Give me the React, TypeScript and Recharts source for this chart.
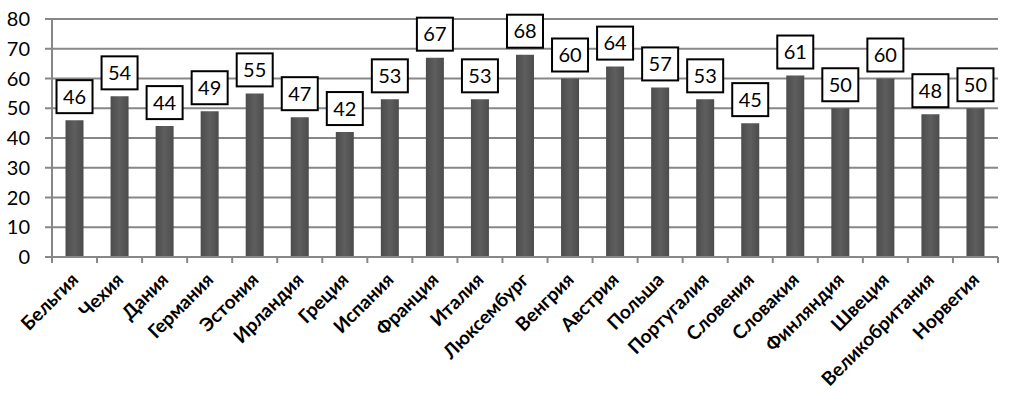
import { Bar, BarChart, CartesianGrid, LabelList, XAxis, YAxis } from 'recharts';

const COUNTRIES = [
  'Бельгия', 'Чехия', 'Дания', 'Германия', 'Эстония', 'Ирландия', 'Греция',
  'Испания', 'Франция', 'Италия', 'Люксембург', 'Венгрия', 'Австрия', 'Польша',
  'Португалия', 'Словения', 'Словакия', 'Финляндия', 'Швеция', 'Великобритания', 'Норвегия',
];
const VALUES = [46, 54, 44, 49, 55, 47, 42, 53, 67, 53, 68, 60, 64, 57, 53, 45, 61, 50, 60, 48, 50];
const Y_TICKS = [0, 10, 20, 30, 40, 50, 60, 70, 80];

const W = 1018;
const H = 410;
const M = { top: 19, right: 20, left: 0, bottom: 0 };
const Y_W = 52;
const X_H = 153;
const STEP = (W - M.left - M.right - Y_W) / COUNTRIES.length;

const FONT = 'Lato, "Open Sans", sans-serif';
const GRID = '#878787';

const data = COUNTRIES.map((name, i) => ({ name, value: VALUES[i] }));

function CountryTick(props: any) {
  const { x, y, payload, index } = props;
  const last = index === COUNTRIES.length - 1;
  const tx = x + 5;
  const ty = y + 24;
  return (
    <g>
      <line x1={x - STEP / 2} x2={x - STEP / 2} y1={y} y2={y + 6} stroke={GRID} strokeWidth={2} />
      {last && <line x1={x + STEP / 2} x2={x + STEP / 2} y1={y} y2={y + 6} stroke={GRID} strokeWidth={2} />}
      <text
        x={tx}
        y={ty}
        transform={`rotate(-45 ${tx} ${ty})`}
        textAnchor="end"
        fontFamily={FONT}
        fontWeight="bold"
        fontSize={19}
        fill="#000"
      >
        {payload.value}
      </text>
    </g>
  );
}

function BoxLabel(props: any) {
  const { x, y, width, value } = props;
  const cx = x + width / 2;
  const bw = 36;
  const bh = 33;
  const bottom = y - 7;
  return (
    <g>
      <rect x={cx - bw / 2} y={bottom - bh} width={bw} height={bh} fill="#fff" stroke="#000" strokeWidth={2} />
      <text x={cx} y={bottom - bh / 2 + 7} textAnchor="middle" fontFamily={FONT} fontSize={20} fill="#000">
        {value}
      </text>
    </g>
  );
}

export default function App() {
  return (
    <div style={{ position: 'absolute', left: 0, top: 0, width: W, height: H, background: '#fff' }}>
      <BarChart width={W} height={H} data={data} margin={M} barCategoryGap="30%">
        <defs>
          <linearGradient id="barFill" x1="0" y1="0" x2="1" y2="0">
            <stop offset="0%" stopColor="#4c4c4c" />
            <stop offset="50%" stopColor="#5e5e5e" />
            <stop offset="100%" stopColor="#4c4c4c" />
          </linearGradient>
        </defs>
        <CartesianGrid vertical={false} stroke={GRID} strokeWidth={2} />
        <XAxis
          dataKey="name"
          interval={0}
          height={X_H}
          axisLine={{ stroke: GRID, strokeWidth: 2 }}
          tickLine={false}
          tickSize={0}
          tickMargin={0}
          tick={<CountryTick />}
        />
        <YAxis
          domain={[0, 80]}
          ticks={Y_TICKS}
          width={Y_W}
          interval={0}
          axisLine={{ stroke: GRID, strokeWidth: 2 }}
          tickLine={{ stroke: GRID, strokeWidth: 2 }}
          tickSize={7}
          tickMargin={15}
          tick={{ fontFamily: FONT, fontSize: 20, fill: '#000' }}
        />
        <Bar dataKey="value" fill="url(#barFill)" isAnimationActive={false}>
          <LabelList dataKey="value" content={<BoxLabel />} />
        </Bar>
      </BarChart>
    </div>
  );
}
